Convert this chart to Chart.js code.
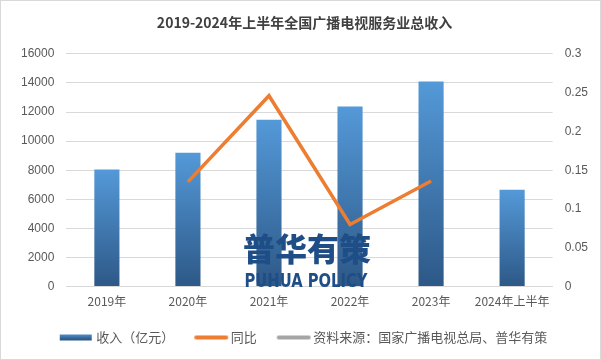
<!DOCTYPE html>
<html lang="zh">
<head>
<meta charset="UTF-8">
<title>2019-2024年上半年全国广播电视服务业总收入</title>
<script src="https://cdn.jsdelivr.net/npm/chart.js"></script>
<style>
  html, body { margin: 0; padding: 0; background: #fff; }
  #wrap { width: 599px; height: 358px; border: 1px solid #d9d9d9; position: relative; }
</style>
</head>
<body>
<div id="wrap"><canvas id="chart" width="599" height="358"></canvas></div>
<script>
const categories = ["2019年", "2020年", "2021年", "2022年", "2023年", "2024年上半年"];
const revenue = [8050, 9200, 11470, 12370, 14090, 6660];
const yoy = [null, 0.135, 0.246, 0.08, 0.136, null];
const leftTicks = [0, 2000, 4000, 6000, 8000, 10000, 12000, 14000, 16000];
const rightTicks = [0, 0.05, 0.1, 0.15, 0.2, 0.25, 0.3];
const sourceNote = "资料来源：国家广播电视总局、普华有策";

const cjk = "'Noto Sans CJK SC', 'Microsoft YaHei', sans-serif";

function barGradient(context) {
  const chart = context.chart;
  const { ctx, chartArea, scales } = chart;
  if (!chartArea || context.parsed == null) return "#4a86c5";
  const top = scales.y.getPixelForValue(context.parsed.y);
  const bottom = scales.y.getPixelForValue(0);
  const g = ctx.createLinearGradient(0, top, 0, bottom);
  g.addColorStop(0, "#5499d8");
  g.addColorStop(1, "#2d5887");
  return g;
}

// legend swatches: 40px canvas, mark drawn from x=4 so it sits close to its text
function swatch(w, h, fill) {
  const c = document.createElement("canvas");
  c.width = 40; c.height = 8;
  const x = c.getContext("2d");
  if (fill === "bar") {
    const g = x.createLinearGradient(0, 0, 0, h);
    g.addColorStop(0, "#5499d8");
    g.addColorStop(1, "#2d5887");
    x.fillStyle = g;
    x.fillRect(4, 1, w, h);
  } else {
    x.strokeStyle = fill;
    x.lineWidth = h;
    x.lineCap = "round";
    x.beginPath();
    x.moveTo(6, 4);
    x.lineTo(4 + w - 2, 4);
    x.stroke();
  }
  return c;
}
const legendIcons = [swatch(32, 6, "bar"), swatch(34, 4, "#ed7d31"), swatch(34, 4, "#a5a5a5")];

const watermark = {
  id: "watermark",
  afterInit(chart) {
    const lg = chart.legend;
    const fit = lg.fit;
    lg.fit = function () {
      fit.call(this);
      if (this.isHorizontal()) this.height += 5;
    };
  },
  afterDatasetsDraw(chart) {
    const ctx = chart.ctx;
    ctx.save();
    ctx.fillStyle = "#1f4e87";
    ctx.textAlign = "center";
    ctx.textBaseline = "middle";
    ctx.font = "900 32px " + cjk;
    ctx.fillText("普华有策", 306, 248);
    ctx.font = "bold 19px 'DejaVu Sans', sans-serif";
    const w = ctx.measureText("PUHUA POLICY").width;
    ctx.translate(305, 281);
    ctx.scale(123 / w, 1);
    ctx.fillText("PUHUA POLICY", 0, 0);
    ctx.restore();
  }
};

new Chart(document.getElementById("chart"), {
  type: "bar",
  data: {
    labels: categories,
    datasets: [
      {
        label: "收入（亿元）",
        data: revenue,
        backgroundColor: barGradient,
        barPercentage: 0.31,
        categoryPercentage: 1,
        yAxisID: "y",
        order: 2
      },
      {
        type: "line",
        label: "同比",
        data: yoy,
        borderColor: "#ed7d31",
        backgroundColor: "#ed7d31",
        borderWidth: 3.5,
        pointRadius: 0,
        tension: 0,
        yAxisID: "y1",
        order: 1
      },
      {
        type: "line",
        label: sourceNote,
        data: [],
        borderColor: "#a5a5a5",
        backgroundColor: "#a5a5a5",
        borderWidth: 3,
        pointRadius: 0,
        yAxisID: "y1",
        order: 0
      }
    ]
  },
  options: {
    responsive: false,
    animation: false,
    layout: { padding: { left: 8, right: 0, top: 0, bottom: 0 } },
    plugins: {
      title: {
        display: true,
        text: "2019-2024年上半年全国广播电视服务业总收入",
        color: "#404040",
        font: { family: cjk, size: 14, weight: "bold" },
        padding: { top: 13, bottom: 23 }
      },
      legend: {
        position: "bottom",
        labels: {
          usePointStyle: true,
          pointStyleWidth: 28,
          color: "#595959",
          font: { family: cjk, size: 13 },
          padding: 22,
          generateLabels(chart) {
            return chart.data.datasets.map((ds, i) => ({
              text: ds.label,
              pointStyle: legendIcons[i],
              datasetIndex: i,
              fontColor: "#595959",
              lineWidth: 0,
              strokeStyle: "transparent",
              fillStyle: "transparent"
            }));
          }
        }
      },
      tooltip: { enabled: false }
    },
    scales: {
      x: {
        grid: { display: false },
        border: { color: "#d9d9d9" },
        ticks: { color: "#595959", font: { family: cjk, size: 12 }, maxRotation: 0, padding: 0 }
      },
      y: {
        position: "left",
        min: 0,
        max: 16000,
        afterBuildTicks(axis) { axis.ticks = leftTicks.map(v => ({ value: v })); },
        grid: { color: "#d9d9d9", drawTicks: false },
        border: { display: false },
        ticks: { color: "#595959", font: { family: "'Liberation Sans', Arial, sans-serif", size: 12 }, padding: 12,
          callback: v => String(v) }
      },
      y1: {
        position: "right",
        min: 0,
        max: 0.3,
        afterBuildTicks(axis) { axis.ticks = rightTicks.map(v => ({ value: v })); },
        grid: { display: false, drawTicks: false },
        border: { display: false },
        ticks: { color: "#595959", font: { family: "'Liberation Sans', Arial, sans-serif", size: 12 }, padding: 12,
          callback: v => String(v) }
      }
    }
  },
  plugins: [watermark]
});
</script>
</body>
</html>
